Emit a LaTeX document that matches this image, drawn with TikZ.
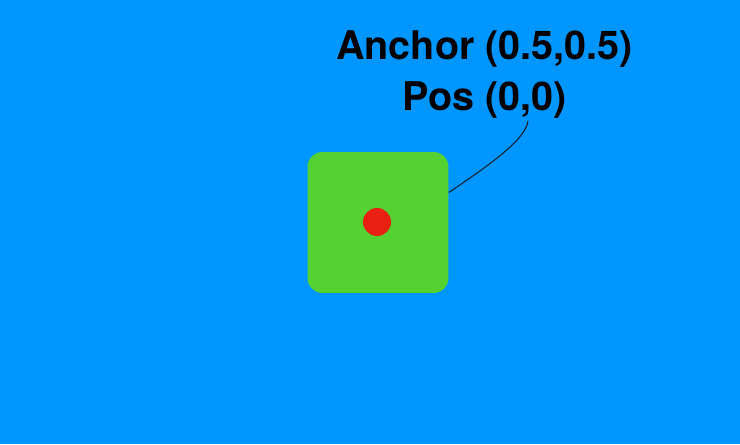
\documentclass[tikz,border=0pt]{standalone}
\usepackage{fontspec}
\setmainfont{TeX Gyre Heros}
\usetikzlibrary{positioning}

\definecolor{skyblue}{RGB}{0,150,255}
\definecolor{tilegreen}{RGB}{85,210,50}
\definecolor{dotred}{RGB}{232,32,18}
\definecolor{leadline}{RGB}{20,30,50}

\begin{document}
\begin{tikzpicture}[
  x=0.02cm, y=0.02cm,
  tile/.style={
    rectangle, fill=tilegreen,
    minimum size=2.82cm,
    rounded corners=0.3cm
  },
  dot/.style={
    circle, fill=dotred,
    minimum size=0.56cm, inner sep=0pt
  },
  caption/.style={
    anchor=base, inner sep=0pt,
    font=\bfseries\fontsize{22.5}{29}\selectfont
  },
]

  % -------------------------------------------------------
  %  Background
  % -------------------------------------------------------
  \fill[skyblue] (0,0) rectangle (740,444);
  \useasboundingbox (0,0) rectangle (740,444);

  % -------------------------------------------------------
  %  Sprite and its anchor point
  % -------------------------------------------------------
  \node[tile] (sprite) at (378,221.5) {};
  \node[dot]  (pivot)  at (377,222) {};

  % -------------------------------------------------------
  %  Labels
  % -------------------------------------------------------
  \node[caption] (anchorlbl) at (484.5,385) {Anchor (0.5,0.5)};
  \node[caption] (poslbl)    at (485,334)   {Pos (0,0)};

  % -------------------------------------------------------
  %  Leader line from label to sprite
  % -------------------------------------------------------
  \coordinate (lead) at (528,323);
  \coordinate (tip)  at (sprite.23);
  \draw[leadline, line width=0.6pt]
    (lead) .. controls (526,304) and (485,276) .. (tip);

\end{tikzpicture}
\end{document}
